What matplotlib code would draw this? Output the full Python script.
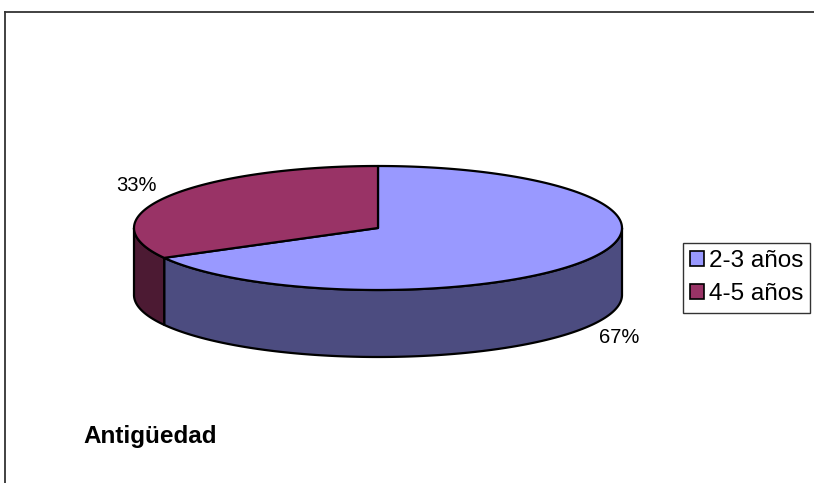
import numpy as np
import matplotlib
matplotlib.use("Agg")
import matplotlib.pyplot as plt
from matplotlib.patches import Polygon, Patch
from matplotlib.lines import Line2D

# Datos
categorias = ["2-3 años", "4-5 años"]
valores = [67, 33]
colores_tapa = ["#9999FF", "#993366"]
colores_lado = ["#4C4C80", "#4C1A33"]
titulo = "Antigüedad"

W, H = 814, 483
fig = plt.figure(figsize=(W / 100, H / 100), dpi=100)
ax = fig.add_axes([0, 0, 1, 1])
ax.set_xlim(0, W)
ax.set_ylim(H, 0)
ax.axis("off")

plt.rcParams["font.family"] = ["Liberation Sans", "DejaVu Sans"]

# Geometría del pastel 3D (en píxeles)
cx, cy = 378, 228
a, b = 244, 62
prof = 67


def arco(t0, t1, dy=0.0, n=200):
    ts = np.radians(np.linspace(t0, t1, n))
    return np.column_stack([cx + a * np.cos(ts), cy - b * np.sin(ts) + dy])


total = float(sum(valores))
inicio = 90.0
rangos = []
for v in valores:
    barrido = 360.0 * v / total
    fin = inicio - barrido
    rangos.append((fin, inicio))
    inicio = fin

# caras laterales visibles (parte frontal, 180..360)
for (t0, t1), col in zip(rangos, colores_lado):
    for k in (0, 360):
        lo = max(t0 + k, 180.0)
        hi = min(t1 + k, 360.0)
        if hi > lo:
            sup = arco(lo, hi)
            inf = arco(hi, lo, dy=prof)
            ax.add_patch(Polygon(np.vstack([sup, inf]), closed=True,
                                 facecolor=col, edgecolor="black",
                                 linewidth=1.6, joinstyle="round"))

# tapas
for (t0, t1), col in zip(rangos, colores_tapa):
    pts = np.vstack([[cx, cy], arco(t0, t1)])
    ax.add_patch(Polygon(pts, closed=True, facecolor=col,
                         edgecolor="black", linewidth=1.6,
                         joinstyle="round"))

# etiquetas de porcentaje
for (t0, t1), v in zip(rangos, valores):
    mid = np.radians((t0 + t1) / 2)
    x = cx + 1.15 * a * np.cos(mid)
    y = cy - 1.36 * b * np.sin(mid)
    if np.sin(mid) < 0:
        y += prof
    ax.text(x, y, f"{round(100 * v / total)}%", fontsize=14.5,
            ha="center", va="center", color="black")

# título
ax.text(83, 437, titulo, fontsize=17.5, fontweight="bold",
        ha="left", va="center", color="black")

# marco del gráfico
ax.add_line(Line2D([5, W], [12, 12], color="#333333", linewidth=1.3))
ax.add_line(Line2D([5, 5], [12, H], color="#333333", linewidth=1.3))

# leyenda
handles = [Patch(facecolor=c, edgecolor="black", linewidth=1.2)
           for c in colores_tapa]
leg = ax.legend(handles, categorias, loc="upper left",
                bbox_to_anchor=(683 / W, 1 - 243 / H),
                bbox_transform=fig.transFigure, borderaxespad=0,
                fontsize=17.5, frameon=True, fancybox=False, shadow=False,
                handlelength=0.55, handleheight=0.55, handletextpad=0.2,
                labelspacing=0.45, borderpad=0.3)
leg.get_frame().set_edgecolor("black")
leg.get_frame().set_linewidth(1.0)

fig.savefig("out.png", dpi=100, facecolor="white")
